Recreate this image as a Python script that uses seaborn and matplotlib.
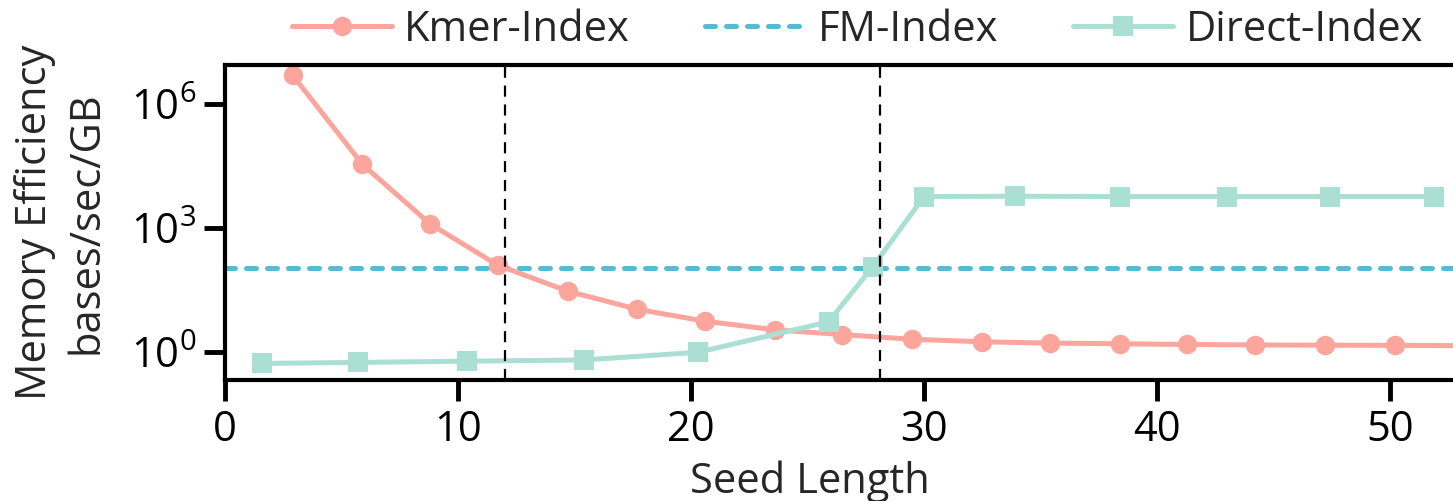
import matplotlib
matplotlib.use("Agg")
import matplotlib.pyplot as plt
from matplotlib.ticker import FixedLocator, NullLocator
from matplotlib.lines import Line2D
import seaborn as sns

# ---- data ----
kmer_x = [2.9, 5.9, 8.8, 11.7, 14.7, 17.7, 20.6, 23.6, 26.5, 29.5, 32.5, 35.4,
          38.4, 41.3, 44.2, 47.2, 50.2, 53.1]
kmer_y = [5.1e6, 3.5e4, 1.26e3, 126, 29.5, 10.7, 5.5, 3.4, 2.6, 2.0, 1.74, 1.62,
          1.56, 1.50, 1.46, 1.44, 1.43, 1.40]
direct_x = [1.6, 5.7, 10.4, 15.4, 20.3, 25.9, 27.8, 30.0, 33.9, 38.4, 43.0, 47.4, 51.9]
direct_y = [0.52, 0.55, 0.59, 0.63, 0.97, 5.3, 115, 5800, 5900, 5800, 5800, 5800, 5800]
fm_value = 110
vlines_x = [12.0, 28.1]
series_names = ["Kmer-Index", "FM-Index", "Direct-Index"]
x_ticks = [0, 10, 20, 30, 40, 50]
y_ticks = [1, 1e3, 1e6]

KMER_C = "#FBA59D"
FM_C = "#56BAD6"
DIR_C = "#AADFD3"

sns.set_style("ticks")
plt.rcParams["font.family"] = ["Open Sans", "DejaVu Sans"]
plt.rcParams["mathtext.default"] = "regular"

W, H = 1453, 501
fig = plt.figure(figsize=(W / 100, H / 100), dpi=100)
ax = fig.add_axes([225 / W, (H - 380) / H, 1 - 225 / W, (380 - 65) / H])

sns.lineplot(x=kmer_x, y=kmer_y, ax=ax, color=KMER_C, marker="o", markersize=14,
             markeredgewidth=0, linewidth=3.6, sort=False, legend=False)
sns.lineplot(x=direct_x, y=direct_y, ax=ax, color=DIR_C, marker="s", markersize=14,
             markeredgewidth=0, linewidth=3.6, sort=False, legend=False)
ax.axhline(fm_value, color=FM_C, lw=3.6, ls=(0, (2, 2.2)), dash_capstyle="round", zorder=1)
for vx in vlines_x:
    ax.axvline(vx, color="black", lw=1.6, ls=(0, (5, 3.5)), zorder=3)

ax.set_yscale("log")
ax.set_xlim(0, 52.7)
ax.set_ylim(0.206, 9.0e6)
ax.yaxis.set_major_locator(FixedLocator(y_ticks))
ax.yaxis.set_minor_locator(NullLocator())
ax.set_xticks(x_ticks)

for s in ["top", "left", "bottom"]:
    ax.spines[s].set_linewidth(3)
    ax.spines[s].set_color("black")
ax.spines["right"].set_visible(False)
ax.tick_params(axis="both", which="major", length=15, width=3.5, labelsize=30,
               pad=6, color="black", labelcolor="black")

ax.set_xlabel("Seed Length", fontsize=30)
ax.xaxis.set_label_coords(0.476, -0.255)
ax.set_ylabel("Memory Efficiency\nbases/sec/GB", fontsize=30, linespacing=1.3)
ax.yaxis.set_label_coords(-0.0955, 0.5)

handles = [
    Line2D([], [], color=KMER_C, marker="o", markersize=14, markeredgewidth=0, lw=3.6),
    Line2D([], [], color=FM_C, lw=3.6, ls=(0, (2, 2.2)), dash_capstyle="round"),
    Line2D([], [], color=DIR_C, marker="s", markersize=14, markeredgewidth=0, lw=3.6),
]
fig.legend(handles, series_names, loc="center", bbox_to_anchor=(0.59, 0.94), ncol=3,
           frameon=False, fontsize=30, handlelength=2.4, handletextpad=0.3,
           columnspacing=1.8, borderaxespad=0, borderpad=0)

fig.savefig("out.png", dpi=100)
